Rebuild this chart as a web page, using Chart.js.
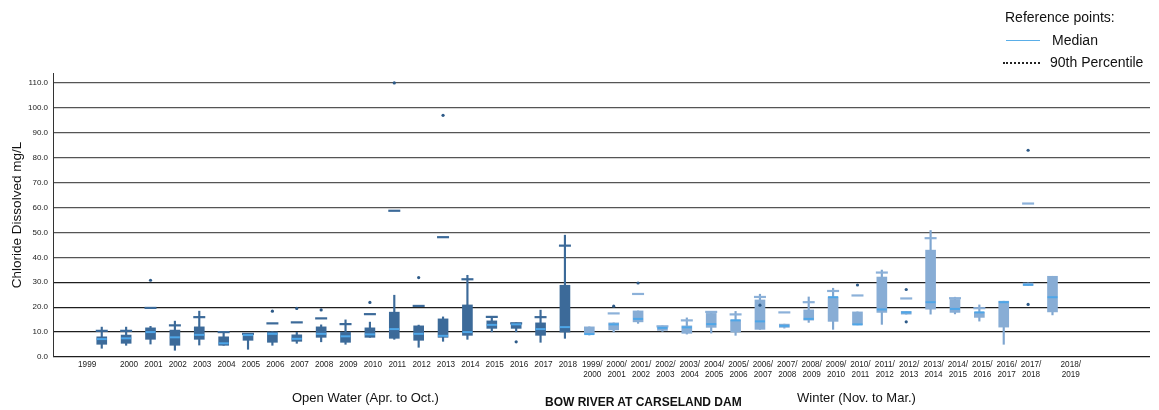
<!DOCTYPE html>
<html>
<head>
<meta charset="utf-8">
<script src="https://cdn.jsdelivr.net/npm/chart.js@4.4.1/dist/chart.umd.min.js"></script>
<style>
  body { margin: 0; background: #fff; font-family: "Liberation Sans", Arial, sans-serif; }
  #wrap { position: relative; width: 1159px; height: 410px; }
  .txt { position: absolute; white-space: nowrap; color: #111; }
  .key { position: absolute; }
</style>
</head>
<body>
<div id="wrap">
  <canvas id="chart" width="1159" height="410"></canvas>

  <div class="txt" style="left:1005px; top:9px; font-size:14px;">Reference points:</div>
  <div class="key" style="left:1006px; top:40px; width:34px; border-top:1.5px solid #5aaee8;"></div>
  <div class="txt" style="left:1052px; top:32px; font-size:14px;">Median</div>
  <div class="key" style="left:1003px; top:62px; width:37px; border-top:2px dotted #222;"></div>
  <div class="txt" style="left:1050px; top:54px; font-size:14px;">90th Percentile</div>

  <div class="txt" style="left:292px; top:390px; font-size:13px;">Open Water (Apr. to Oct.)</div>
  <div class="txt" style="left:545px; top:395px; font-size:12px; font-weight:bold;">BOW RIVER AT CARSELAND DAM</div>
  <div class="txt" style="left:797px; top:390px; font-size:13px;">Winter (Nov. to Mar.)</div>
</div>

<script>
//categories: 20 open water seasons then 20 winters
const openYears = ['1999','2000','2001','2002','2003','2004','2005','2006','2007','2008',
                   '2009','2010','2011','2012','2013','2014','2015','2016','2017','2018'];
const winterYears = ['1999/2000','2000/2001','2001/2002','2002/2003','2003/2004','2004/2005',
                     '2005/2006','2006/2007','2007/2008','2008/2009','2009/2010','2010/2011',
                     '2011/2012','2012/2013','2013/2014','2014/2015','2015/2016','2016/2017',
                     '2017/2018','2018/2019'];
const categories = openYears.concat(winterYears);

//box plot values (mg/L), open water first then winter
const whiskerLow  = [3.5, 4.7, 5.2, 2.7, 4.8, 4.7, 3.1, 4.7, 5.5, 6.1,
                     5.1, 7.9, 7.1, 3.9, 6.3, 7.1,10.1,10.1, 5.9, 7.5,
                     8.8,10.0,13.5,10.3, 9.2, 9.6, 8.7,11.1,11.6,13.9,
                    11.1,12.9,13.1,17.2,17.2,17.3,14.4, 5.1,28.7,16.9];
const q1          = [5.1, 5.5, 7.1, 4.7, 7.1, 4.7, 6.7, 5.9, 6.3, 7.9,
                     5.9, 7.9, 7.5, 6.7, 7.9, 8.7,11.5,11.5, 8.7,10.0,
                     9.1,10.9,14.1,10.7, 9.5,11.9,10.0,11.1,11.9,14.8,
                    14.3,12.9,17.9,17.2,19.2,17.9,15.9,12.0,28.7,18.1];
const median      = [7.2, 7.5,10.0, 7.9, 8.9, 5.5, 8.8, 9.3, 7.3, 9.3,
                     8.3, 9.1,11.2, 9.3, 8.5,10.0,12.9,13.1,11.2,12.0,
                     9.2,13.1,15.3,11.7,11.9,13.2,14.7,14.3,12.5,15.3,
                    24.0,13.1,19.1,17.9,22.0,19.3,17.9,22.0,29.0,24.0];
const q3          = [8.1, 8.8,11.7,10.8,12.1, 8.1, 9.3,10.1, 8.9,12.1,
                    10.0,11.7,18.0,12.5,15.3,20.9,14.5,13.7,13.7,28.8,
                    12.1,13.7,18.5,12.4,12.5,17.5,14.9,22.9,13.2,18.9,
                    24.1,18.1,32.1,18.3,42.9,23.1,18.0,22.4,29.7,32.4];
const whiskerHigh = [12.0,12.0,12.3,14.4,18.4,10.3, 9.5,10.1, 9.9,12.9,
                     14.9,14.0,24.8,12.8,16.1,32.8,16.1,13.7,18.8,48.9,
                     12.1,13.7,18.5,12.5,15.7,18.3,18.3,25.2,13.2,24.1,
                     27.6,18.1,34.9,18.3,50.8,24.0,20.9,22.4,29.7,32.4];
//90th percentile reference dash
const p90         = [10.5,10.5,19.7,12.7,16.0,10.0, 9.3,13.5,13.9,15.5,
                     13.2,17.2,58.7,20.5,48.1,31.2,16.1,13.5,16.0,44.7,
                     null,17.5,25.3,12.3,14.7,18.1,17.1,24.1,17.9,22.0,
                     26.5,24.7,33.9,23.5,47.7,23.6,19.6,null,61.6,null];
//outliers
const outlierIdx = [2, 7, 8, 9, 11, 12, 13, 14, 17, 21, 22, 27, 31, 33, 33, 38, 38];
const outlierVal = [30.8, 18.4, 19.5, 18.9, 21.9, 110.0, 31.9, 97.0, 6.1,
                    20.4, 29.7, 20.8, 28.9, 27.1, 14.1, 83.0, 21.1];

const yTicks = [0, 10, 20, 30, 40, 50, 60, 70, 80, 90, 100, 110];

const nOpen = openYears.length;
const isOpen = i => i < nOpen;
const boxColor = i => isOpen(i) ? '#3c6a99' : '#88add5';
const whiskerColor = i => isOpen(i) ? '#3c6a99' : '#7fa6d0';
const dashColor = i => isOpen(i) ? '#3c6a99' : '#8cb1d9';

//build datasets from the arrays
const boxData = categories.map((c, i) => ({x: i, y: [q1[i], q3[i]]}));
const whiskerData = categories.map((c, i) => ({x: i, y: [whiskerLow[i], whiskerHigh[i]]}));
const medianData = categories.map((c, i) => ({x: i, y: median[i]}));
const p90Data = [];
const p90Colors = [];
for (let i = 0; i < categories.length; i++) {
    if (p90[i] !== null) {
        p90Data.push({x: i, y: p90[i]});
        p90Colors.push(dashColor(i));
    }
}
const outlierData = outlierIdx.map((i, k) => ({x: i, y: outlierVal[k]}));

//tick label placement (1999 and 2018/2019 sit off-centre in the original)
function tickPos(i){
    if (i === 0) return -0.6;
    if (i === categories.length - 1) return 39.75;
    return i + 0.12;
}

const ctx = document.getElementById('chart').getContext('2d');
Chart.defaults.font.family = '"Liberation Sans", Arial, sans-serif';

new Chart(ctx, {
    type: 'bar',
    data: {
        datasets: [
            {
                type: 'scatter',
                data: medianData,
                pointStyle: 'line',
                radius: 5,
                borderWidth: 2,
                borderColor: '#4ea6e8',
                backgroundColor: '#4ea6e8',
                order: 0
            },
            {
                type: 'scatter',
                data: outlierData,
                pointStyle: 'circle',
                radius: 1.6,
                borderWidth: 0,
                backgroundColor: '#2d5a88',
                order: 1
            },
            {
                type: 'scatter',
                data: p90Data,
                pointStyle: 'line',
                radius: 6,
                borderWidth: 2.2,
                borderColor: p90Colors,
                backgroundColor: p90Colors,
                order: 2
            },
            {
                data: boxData,
                backgroundColor: categories.map((c, i) => boxColor(i)),
                barThickness: 10,
                grouped: false,
                order: 3
            },
            {
                data: whiskerData,
                backgroundColor: categories.map((c, i) => whiskerColor(i)),
                barThickness: 1.5,
                grouped: false,
                order: 4
            }
        ]
    },
    options: {
        responsive: false,
        animation: false,
        layout: { padding: { top: 73, right: 9, left: 0, bottom: 0 } },
        plugins: {
            legend: { display: false },
            tooltip: { enabled: false }
        },
        scales: {
            x: {
                type: 'linear',
                min: -2,
                max: 43,
                offset: false,
                grid: { display: false, drawTicks: false },
                border: { display: false },
                afterBuildTicks: s => { s.ticks = categories.map((c, i) => ({value: tickPos(i)})); },
                ticks: {
                    autoSkip: false,
                    maxRotation: 0,
                    color: '#222',
                    padding: 3,
                    font: { size: 8.2 },
                    callback: (v, idx) => {
                        const lab = categories[idx];
                        return lab.indexOf('/') > 0 ? [lab.split('/')[0] + '/', lab.split('/')[1]] : lab;
                    }
                },
                afterFit: s => { s.height = 53; }
            },
            y: {
                min: 0,
                max: 114,
                afterBuildTicks: s => { s.ticks = yTicks.map(v => ({value: v})); },
                grid: {
                    color: c => (c.tick && c.tick.value > 30) ? '#555' : '#1e1e1e',
                    lineWidth: 1.3,
                    drawTicks: false
                },
                border: { display: true, color: '#333', width: 1 },
                ticks: {
                    color: '#222',
                    padding: 5,
                    font: { size: 8 },
                    callback: v => v.toFixed(1)
                },
                title: {
                    display: true,
                    text: 'Chloride Dissolved mg/L',
                    color: '#111',
                    font: { size: 13.5 },
                    padding: { top: 9, bottom: 0 }
                },
                afterFit: s => { s.width = 53; }
            }
        }
    }
});
</script>
</body>
</html>
